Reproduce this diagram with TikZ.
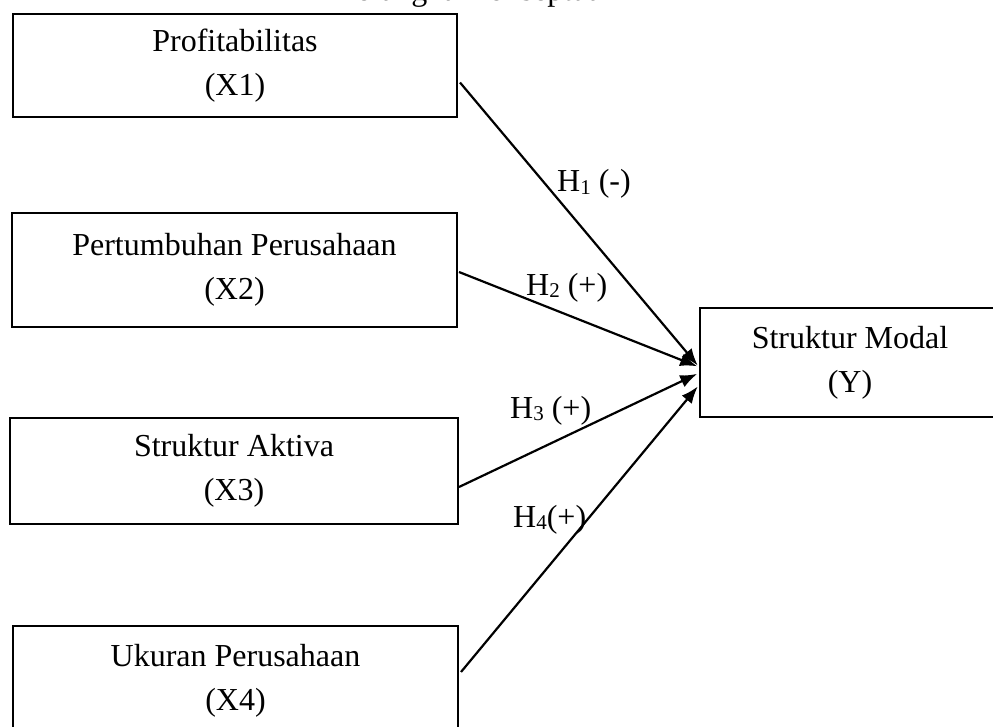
\documentclass[tikz,border=0pt]{standalone}
\usepackage{fontspec}
\setmainfont{Liberation Serif}
\usetikzlibrary{arrows.meta,calc}
\newcommand{\sbs}[1]{\raisebox{-0.15ex}{\fontsize{21}{21}\selectfont #1}}
\begin{document}
\begin{tikzpicture}[x=1pt,y=-1pt,
  every node/.style={font=\fontsize{32}{44}\selectfont, inner sep=0pt},
  varbox/.style={draw=black, line width=2pt, align=center, minimum width=#1},
  conn/.style={line width=2.2pt, -{Latex[length=17pt,width=13pt]}, shorten >=2pt},
  hlabel/.style={anchor=base west}]
\useasboundingbox (0,0) rectangle (993,727);
\node[anchor=base west] (title) at (333,1) {Kerangka Konseptual};
\node[varbox=444pt, minimum height=103pt] (X1) at (235,65.5) {\raisebox{-4pt}{Profitabilitas}\\\raisebox{-4pt}{(X1)}};
\node[varbox=445pt, minimum height=114pt] (X2) at (234.5,270) {Pertumbuhan Perusahaan\\(X2)};
\node[varbox=448pt, minimum height=106pt] (X3) at (234,471) {Struktur Aktiva\\(X3)};
\node[varbox=445pt, minimum height=110pt] (X4) at (235.5,681) {Ukuran Perusahaan\\(X4)};
\node[varbox=300pt, minimum height=109pt] (Y) at (850,362.5) {Struktur Modal\\(Y)};
\draw[conn] ($(X1.east)+(2,17)$) -- ($(Y.west)+(0,4.5)$);
\draw[conn] ($(X2.east)+(1,2)$) -- ($(Y.west)+(0,4.5)$);
\draw[conn] ($(X3.east)+(0,16)$) -- ($(Y.west)+(0,10.5)$);
\draw[conn] ($(X4.east)+(2,-9)$) -- ($(Y.west)+(0,22.5)$);
\node[hlabel] (h1) at (557,192) {H\sbs{1} (-)};
\node[hlabel] (h2) at (526,295) {H\sbs{2} (+)};
\node[hlabel] (h3) at (510,418) {H\sbs{3} (+)};
\node[hlabel] (h4) at (513,527) {H\sbs{4}(+)};
\end{tikzpicture}
\end{document}
